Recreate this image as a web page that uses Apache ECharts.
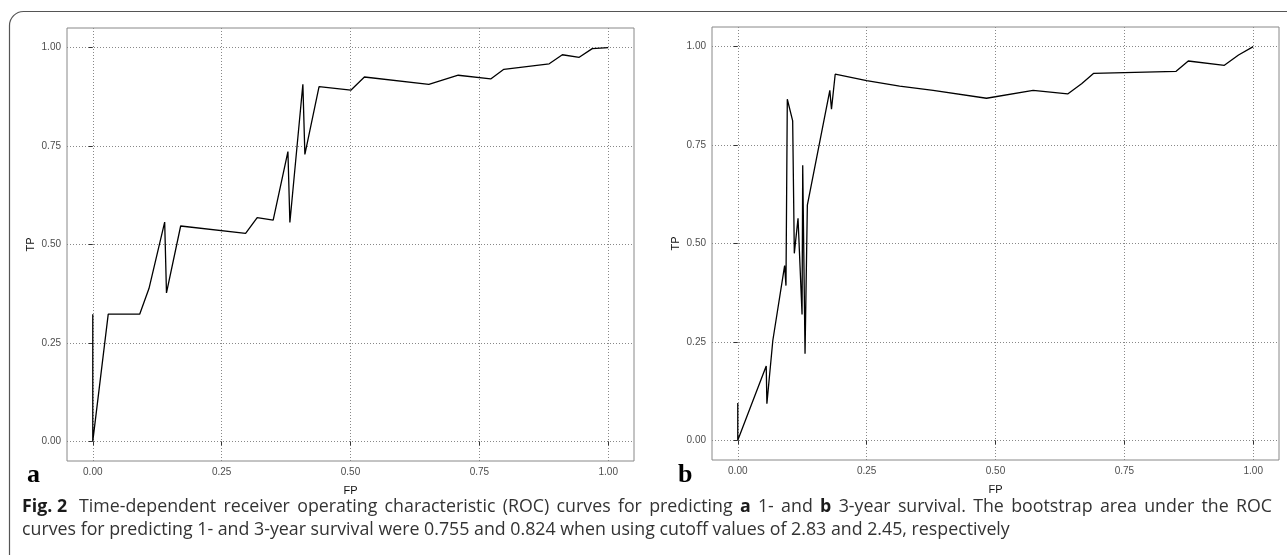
<!DOCTYPE html>
<html>
<head>
<meta charset="utf-8">
<script src="https://cdn.jsdelivr.net/npm/echarts@6/dist/echarts.min.js"></script>
<style>
html,body{margin:0;padding:0;background:#fff;}
#c{width:1287px;height:555px;}
</style>
</head>
<body>
<div id="c"></div>
<script>
// Panel a: 1-year ROC
const fpA = [0, 0, 0.030, 0.091, 0.109, 0.1395, 0.143, 0.1705, 0.2965, 0.319, 0.350, 0.3786, 0.3824, 0.4076, 0.4115, 0.439, 0.5006, 0.527, 0.652, 0.709, 0.772, 0.7975, 0.8855, 0.911, 0.9437, 0.969, 1.0];
const tpA = [0.323, 0, 0.323, 0.323, 0.388, 0.557, 0.377, 0.547, 0.528, 0.5685, 0.562, 0.736, 0.556, 0.907, 0.729, 0.901, 0.892, 0.9255, 0.907, 0.930, 0.9205, 0.945, 0.959, 0.982, 0.9755, 0.9975, 1.0];
// Panel b: 3-year ROC
const fpB = [0, 0, 0.0552, 0.0565, 0.068, 0.0909, 0.0935, 0.0961, 0.1065, 0.1097, 0.1169, 0.1247, 0.126, 0.1305, 0.135, 0.1786, 0.1818, 0.189, 0.25, 0.314, 0.379, 0.4825, 0.573, 0.640, 0.667, 0.690, 0.8504, 0.874, 0.944, 0.9715, 1.0];
const tpB = [0.0947, 0, 0.189, 0.093, 0.2536, 0.444, 0.393, 0.8665, 0.8115, 0.475, 0.564, 0.3195, 0.699, 0.2198, 0.5976, 0.889, 0.841, 0.930, 0.914, 0.900, 0.889, 0.869, 0.889, 0.880, 0.906, 0.932, 0.9375, 0.9636, 0.9527, 0.979, 1.0];
const tickVals = [0, 0.25, 0.5, 0.75, 1];
const tickLabels = ['0.00', '0.25', '0.50', '0.75', '1.00'];
const xName = 'FP';
const yName = 'TP';
const panelLabels = ['a', 'b'];
// caption words; words wrapped in * are bold
const captionLine1 = '*Fig.\u00a02* Time-dependent receiver operating characteristic (ROC) curves for predicting *a* 1- and *b* 3-year survival. The bootstrap area under the ROC';
const captionLine2 = 'curves for predicting 1- and 3-year survival were 0.755 and 0.824 when using cutoff values of 2.83 and 2.45, respectively';

const chart = echarts.init(document.getElementById('c'), null, {renderer: 'canvas'});
const fmt = v => tickLabels[tickVals.indexOf(Math.round(v * 100) / 100)] || '';

function mkX(gi) {
  return {
    gridIndex: gi, type: 'value', min: -0.05, max: 1.05,
    name: xName, nameLocation: 'middle', nameGap: 24,
    nameTextStyle: {fontSize: 11, color: '#111', fontFamily: 'Liberation Sans'},
    axisLine: {show: false},
    axisTick: {show: true, length: 4, lineStyle: {color: '#333'}, customValues: tickVals},
    axisLabel: {show: true, fontSize: 10, color: '#4d4d4d', margin: 6, fontFamily: 'Liberation Sans', customValues: tickVals, formatter: fmt},
    splitLine: {show: true, lineStyle: {color: '#888', type: [1, 2], width: 1}},
    minorTick: {show: false}
  };
}
function mkY(gi) {
  return {
    gridIndex: gi, type: 'value', min: -0.05, max: 1.05,
    name: yName, nameLocation: 'middle', nameGap: 31,
    nameTextStyle: {fontSize: 11, color: '#111', fontFamily: 'Liberation Sans'},
    axisLine: {show: false},
    axisTick: {show: true, length: 4, lineStyle: {color: '#333'}, customValues: tickVals},
    axisLabel: {show: true, fontSize: 10, color: '#4d4d4d', margin: 6, fontFamily: 'Liberation Sans', customValues: tickVals, formatter: fmt},
    splitLine: {show: true, lineStyle: {color: '#888', type: [1, 2], width: 1}}
  };
}

// caption layout (justified first line, left-aligned last line)
const capSize = 17.8;
const capFamily = '"Open Sans"';
const measureCtx = document.createElement('canvas').getContext('2d');
function wordTexts(line, y, x0, targetWidth) {
  const words = line.split(' ').map(w => {
    const bold = /^\*.*\*$/.test(w);
    return {t: bold ? w.slice(1, -1) : w, bold: bold};
  });
  const fontOf = w => (w.bold ? 'bold ' : '') + capSize + 'px ' + capFamily;
  measureCtx.font = 'normal ' + capSize + 'px ' + capFamily;
  const space = measureCtx.measureText(' ').width;
  let total = 0;
  words.forEach(w => { measureCtx.font = fontOf(w); w.w = measureCtx.measureText(w.t).width; total += w.w; });
  const gap = targetWidth ? (targetWidth - total - space) / (words.length - 1) : space;
  const out = [];
  let x = x0;
  words.forEach((w, i) => {
    out.push({type: 'text', x: x, y: y, silent: true,
      style: {text: w.t, font: fontOf(w), fill: w.bold ? '#1a1a1a' : '#333', verticalAlign: 'middle'}});
    x += w.w + gap + (targetWidth && i === 0 ? space : 0);
  });
  return out;
}

const option = {
  animation: false,
  backgroundColor: '#fff',
  grid: [
    {left: 67, top: 28, width: 567, height: 433, show: true, borderColor: '#888', borderWidth: 1, backgroundColor: '#fff'},
    {left: 712, top: 27, width: 567, height: 433, show: true, borderColor: '#888', borderWidth: 1, backgroundColor: '#fff'}
  ],
  xAxis: [mkX(0), mkX(1)],
  yAxis: [mkY(0), mkY(1)],
  series: [
    {type: 'line', xAxisIndex: 0, yAxisIndex: 0, showSymbol: false, symbol: 'none',
     lineStyle: {color: '#000', width: 1.3}, data: fpA.map((x, i) => [x, tpA[i]])},
    {type: 'line', xAxisIndex: 1, yAxisIndex: 1, showSymbol: false, symbol: 'none',
     lineStyle: {color: '#000', width: 1.3}, data: fpB.map((x, i) => [x, tpB[i]])}
  ],
  graphic: [
    {type: 'rect', silent: true, shape: {x: 9.5, y: 11.5, width: 1400, height: 700, r: [14, 0, 0, 0]},
     style: {fill: 'none', stroke: '#555', lineWidth: 1.2}, z: 10},
    {type: 'text', x: 27, y: 475, style: {text: panelLabels[0], font: 'bold 26px "Liberation Serif"', fill: '#000', verticalAlign: 'middle'}},
    {type: 'text', x: 678, y: 475, style: {text: panelLabels[1], font: 'bold 26px "Liberation Serif"', fill: '#000', verticalAlign: 'middle'}}
  ].concat(wordTexts(captionLine1, 507, 22, 1250), wordTexts(captionLine2, 530, 22, 0))
};
chart.setOption(option);
</script>
</body>
</html>
